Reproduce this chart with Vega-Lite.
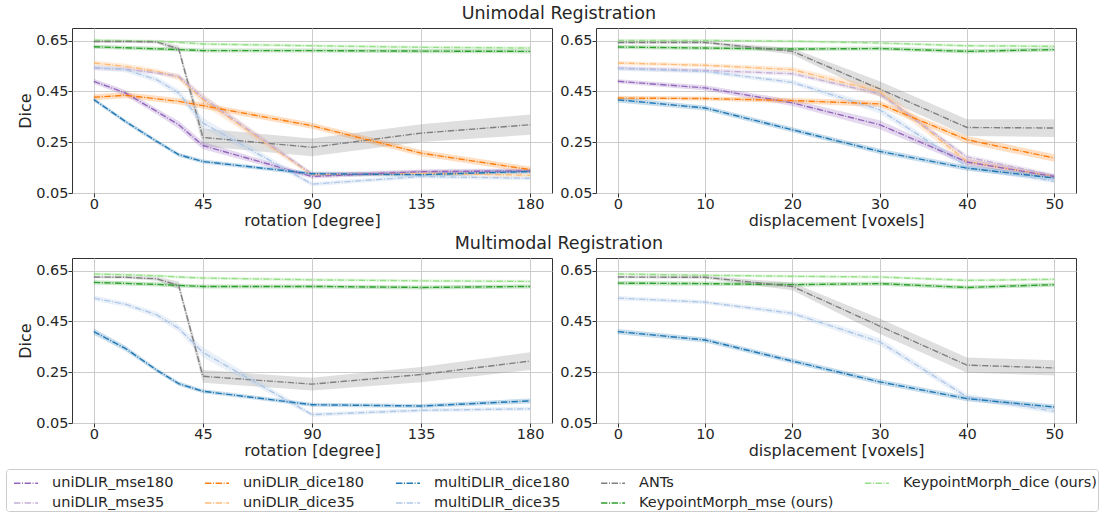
{
  "$schema": "https://vega.github.io/schema/vega-lite/v6.json",
  "padding": {"left": 5, "top": 5, "right": 4, "bottom": 0},
  "background": "white",
  "config": {
    "font": "DejaVu Sans",
    "view": {"stroke": "#333333", "strokeWidth": 1},
    "axis": {"labelFont": "DejaVu Sans", "titleFont": "DejaVu Sans", "labelFontSize": 14.5, "titleFontSize": 16, "titleFontWeight": "normal", "labelColor": "#262626", "titleColor": "#262626", "gridColor": "#cccccc", "gridWidth": 1, "tickColor": "#333333", "tickSize": 4, "domain": false, "labelPadding": 0, "titlePadding": 2},
    "title": {"font": "DejaVu Sans", "fontSize": 17.5, "fontWeight": "normal", "color": "#262626", "anchor": "middle"},
    "legend": {"labelFont": "DejaVu Sans", "labelFontSize": 14.5, "labelColor": "#262626", "symbolType": "stroke", "symbolSize": 576, "symbolStrokeWidth": 1.5, "symbolDash": [6.4, 1.6, 1, 1.6], "symbolOffset": 6, "labelOffset": 13, "columnPadding": 24, "rowPadding": -3, "strokeColor": "#cccccc", "padding": 1, "cornerRadius": 3, "labelLimit": 400}
  },
  "datasets": {
    "d": [
      {"p":"ur","s":"KeypointMorph_dice (ours)","x":0,"y":0.652,"lo":0.646,"hi":0.658},
      {"p":"ur","s":"KeypointMorph_dice (ours)","x":13,"y":0.650,"lo":0.644,"hi":0.656},
      {"p":"ur","s":"KeypointMorph_dice (ours)","x":26,"y":0.648,"lo":0.642,"hi":0.654},
      {"p":"ur","s":"KeypointMorph_dice (ours)","x":35,"y":0.644,"lo":0.638,"hi":0.650},
      {"p":"ur","s":"KeypointMorph_dice (ours)","x":45,"y":0.637,"lo":0.631,"hi":0.643},
      {"p":"ur","s":"KeypointMorph_dice (ours)","x":90,"y":0.630,"lo":0.624,"hi":0.636},
      {"p":"ur","s":"KeypointMorph_dice (ours)","x":135,"y":0.624,"lo":0.618,"hi":0.630},
      {"p":"ur","s":"KeypointMorph_dice (ours)","x":180,"y":0.621,"lo":0.615,"hi":0.627},
      {"p":"ur","s":"KeypointMorph_mse (ours)","x":0,"y":0.626,"lo":0.618,"hi":0.634},
      {"p":"ur","s":"KeypointMorph_mse (ours)","x":13,"y":0.622,"lo":0.614,"hi":0.630},
      {"p":"ur","s":"KeypointMorph_mse (ours)","x":26,"y":0.618,"lo":0.610,"hi":0.626},
      {"p":"ur","s":"KeypointMorph_mse (ours)","x":35,"y":0.615,"lo":0.607,"hi":0.623},
      {"p":"ur","s":"KeypointMorph_mse (ours)","x":45,"y":0.611,"lo":0.603,"hi":0.619},
      {"p":"ur","s":"KeypointMorph_mse (ours)","x":90,"y":0.611,"lo":0.603,"hi":0.619},
      {"p":"ur","s":"KeypointMorph_mse (ours)","x":135,"y":0.609,"lo":0.601,"hi":0.617},
      {"p":"ur","s":"KeypointMorph_mse (ours)","x":180,"y":0.608,"lo":0.600,"hi":0.616},
      {"p":"ur","s":"ANTs","x":0,"y":0.647,"lo":0.642,"hi":0.652},
      {"p":"ur","s":"ANTs","x":13,"y":0.647,"lo":0.642,"hi":0.652},
      {"p":"ur","s":"ANTs","x":26,"y":0.645,"lo":0.639,"hi":0.651},
      {"p":"ur","s":"ANTs","x":35,"y":0.618,"lo":0.606,"hi":0.630},
      {"p":"ur","s":"ANTs","x":45,"y":0.269,"lo":0.234,"hi":0.304},
      {"p":"ur","s":"ANTs","x":90,"y":0.230,"lo":0.195,"hi":0.265},
      {"p":"ur","s":"ANTs","x":135,"y":0.286,"lo":0.251,"hi":0.321},
      {"p":"ur","s":"ANTs","x":180,"y":0.319,"lo":0.279,"hi":0.359},
      {"p":"ur","s":"uniDLIR_dice35","x":0,"y":0.562,"lo":0.552,"hi":0.572},
      {"p":"ur","s":"uniDLIR_dice35","x":13,"y":0.549,"lo":0.539,"hi":0.559},
      {"p":"ur","s":"uniDLIR_dice35","x":26,"y":0.529,"lo":0.519,"hi":0.539},
      {"p":"ur","s":"uniDLIR_dice35","x":35,"y":0.506,"lo":0.494,"hi":0.518},
      {"p":"ur","s":"uniDLIR_dice35","x":45,"y":0.418,"lo":0.398,"hi":0.438},
      {"p":"ur","s":"uniDLIR_dice35","x":90,"y":0.122,"lo":0.114,"hi":0.130},
      {"p":"ur","s":"uniDLIR_dice35","x":135,"y":0.128,"lo":0.120,"hi":0.136},
      {"p":"ur","s":"uniDLIR_dice35","x":180,"y":0.120,"lo":0.112,"hi":0.128},
      {"p":"ur","s":"uniDLIR_mse35","x":0,"y":0.542,"lo":0.534,"hi":0.550},
      {"p":"ur","s":"uniDLIR_mse35","x":13,"y":0.538,"lo":0.530,"hi":0.546},
      {"p":"ur","s":"uniDLIR_mse35","x":26,"y":0.523,"lo":0.515,"hi":0.531},
      {"p":"ur","s":"uniDLIR_mse35","x":35,"y":0.510,"lo":0.500,"hi":0.520},
      {"p":"ur","s":"uniDLIR_mse35","x":45,"y":0.425,"lo":0.410,"hi":0.440},
      {"p":"ur","s":"uniDLIR_mse35","x":90,"y":0.125,"lo":0.117,"hi":0.133},
      {"p":"ur","s":"uniDLIR_mse35","x":135,"y":0.135,"lo":0.127,"hi":0.143},
      {"p":"ur","s":"uniDLIR_mse35","x":180,"y":0.140,"lo":0.132,"hi":0.148},
      {"p":"ur","s":"uniDLIR_mse180","x":0,"y":0.490,"lo":0.480,"hi":0.500},
      {"p":"ur","s":"uniDLIR_mse180","x":13,"y":0.444,"lo":0.432,"hi":0.456},
      {"p":"ur","s":"uniDLIR_mse180","x":26,"y":0.371,"lo":0.359,"hi":0.383},
      {"p":"ur","s":"uniDLIR_mse180","x":35,"y":0.319,"lo":0.304,"hi":0.334},
      {"p":"ur","s":"uniDLIR_mse180","x":45,"y":0.237,"lo":0.222,"hi":0.252},
      {"p":"ur","s":"uniDLIR_mse180","x":90,"y":0.115,"lo":0.107,"hi":0.123},
      {"p":"ur","s":"uniDLIR_mse180","x":135,"y":0.134,"lo":0.126,"hi":0.142},
      {"p":"ur","s":"uniDLIR_mse180","x":180,"y":0.137,"lo":0.129,"hi":0.145},
      {"p":"ur","s":"uniDLIR_dice180","x":0,"y":0.427,"lo":0.415,"hi":0.439},
      {"p":"ur","s":"uniDLIR_dice180","x":13,"y":0.435,"lo":0.423,"hi":0.447},
      {"p":"ur","s":"uniDLIR_dice180","x":26,"y":0.421,"lo":0.409,"hi":0.433},
      {"p":"ur","s":"uniDLIR_dice180","x":35,"y":0.411,"lo":0.399,"hi":0.423},
      {"p":"ur","s":"uniDLIR_dice180","x":45,"y":0.394,"lo":0.382,"hi":0.406},
      {"p":"ur","s":"uniDLIR_dice180","x":90,"y":0.315,"lo":0.303,"hi":0.327},
      {"p":"ur","s":"uniDLIR_dice180","x":135,"y":0.207,"lo":0.195,"hi":0.219},
      {"p":"ur","s":"uniDLIR_dice180","x":180,"y":0.142,"lo":0.130,"hi":0.154},
      {"p":"ur","s":"multiDLIR_dice35","x":0,"y":0.545,"lo":0.535,"hi":0.555},
      {"p":"ur","s":"multiDLIR_dice35","x":13,"y":0.536,"lo":0.526,"hi":0.546},
      {"p":"ur","s":"multiDLIR_dice35","x":26,"y":0.496,"lo":0.484,"hi":0.508},
      {"p":"ur","s":"multiDLIR_dice35","x":35,"y":0.444,"lo":0.429,"hi":0.459},
      {"p":"ur","s":"multiDLIR_dice35","x":45,"y":0.326,"lo":0.306,"hi":0.346},
      {"p":"ur","s":"multiDLIR_dice35","x":90,"y":0.085,"lo":0.077,"hi":0.093},
      {"p":"ur","s":"multiDLIR_dice35","x":135,"y":0.115,"lo":0.107,"hi":0.123},
      {"p":"ur","s":"multiDLIR_dice35","x":180,"y":0.108,"lo":0.100,"hi":0.116},
      {"p":"ur","s":"multiDLIR_dice180","x":0,"y":0.418,"lo":0.410,"hi":0.426},
      {"p":"ur","s":"multiDLIR_dice180","x":13,"y":0.332,"lo":0.324,"hi":0.340},
      {"p":"ur","s":"multiDLIR_dice180","x":26,"y":0.253,"lo":0.245,"hi":0.261},
      {"p":"ur","s":"multiDLIR_dice180","x":35,"y":0.201,"lo":0.193,"hi":0.209},
      {"p":"ur","s":"multiDLIR_dice180","x":45,"y":0.174,"lo":0.166,"hi":0.182},
      {"p":"ur","s":"multiDLIR_dice180","x":90,"y":0.126,"lo":0.118,"hi":0.134},
      {"p":"ur","s":"multiDLIR_dice180","x":135,"y":0.122,"lo":0.114,"hi":0.130},
      {"p":"ur","s":"multiDLIR_dice180","x":180,"y":0.135,"lo":0.127,"hi":0.143},

      {"p":"ud","s":"KeypointMorph_dice (ours)","x":0,"y":0.651,"lo":0.645,"hi":0.657},
      {"p":"ud","s":"KeypointMorph_dice (ours)","x":10,"y":0.651,"lo":0.645,"hi":0.657},
      {"p":"ud","s":"KeypointMorph_dice (ours)","x":20,"y":0.648,"lo":0.642,"hi":0.654},
      {"p":"ud","s":"KeypointMorph_dice (ours)","x":30,"y":0.641,"lo":0.635,"hi":0.647},
      {"p":"ud","s":"KeypointMorph_dice (ours)","x":40,"y":0.630,"lo":0.624,"hi":0.636},
      {"p":"ud","s":"KeypointMorph_dice (ours)","x":50,"y":0.628,"lo":0.622,"hi":0.634},
      {"p":"ud","s":"KeypointMorph_mse (ours)","x":0,"y":0.625,"lo":0.617,"hi":0.633},
      {"p":"ud","s":"KeypointMorph_mse (ours)","x":10,"y":0.621,"lo":0.613,"hi":0.629},
      {"p":"ud","s":"KeypointMorph_mse (ours)","x":20,"y":0.617,"lo":0.609,"hi":0.625},
      {"p":"ud","s":"KeypointMorph_mse (ours)","x":30,"y":0.619,"lo":0.611,"hi":0.627},
      {"p":"ud","s":"KeypointMorph_mse (ours)","x":40,"y":0.608,"lo":0.600,"hi":0.616},
      {"p":"ud","s":"KeypointMorph_mse (ours)","x":50,"y":0.615,"lo":0.607,"hi":0.623},
      {"p":"ud","s":"ANTs","x":0,"y":0.643,"lo":0.638,"hi":0.648},
      {"p":"ud","s":"ANTs","x":10,"y":0.643,"lo":0.638,"hi":0.648},
      {"p":"ud","s":"ANTs","x":20,"y":0.608,"lo":0.596,"hi":0.620},
      {"p":"ud","s":"ANTs","x":30,"y":0.460,"lo":0.430,"hi":0.490},
      {"p":"ud","s":"ANTs","x":40,"y":0.308,"lo":0.275,"hi":0.341},
      {"p":"ud","s":"ANTs","x":50,"y":0.306,"lo":0.271,"hi":0.341},
      {"p":"ud","s":"uniDLIR_dice35","x":0,"y":0.562,"lo":0.554,"hi":0.570},
      {"p":"ud","s":"uniDLIR_dice35","x":10,"y":0.553,"lo":0.545,"hi":0.561},
      {"p":"ud","s":"uniDLIR_dice35","x":20,"y":0.536,"lo":0.526,"hi":0.546},
      {"p":"ud","s":"uniDLIR_dice35","x":30,"y":0.450,"lo":0.430,"hi":0.470},
      {"p":"ud","s":"uniDLIR_dice35","x":40,"y":0.174,"lo":0.159,"hi":0.189},
      {"p":"ud","s":"uniDLIR_dice35","x":50,"y":0.115,"lo":0.107,"hi":0.123},
      {"p":"ud","s":"uniDLIR_mse35","x":0,"y":0.542,"lo":0.534,"hi":0.550},
      {"p":"ud","s":"uniDLIR_mse35","x":10,"y":0.533,"lo":0.525,"hi":0.541},
      {"p":"ud","s":"uniDLIR_mse35","x":20,"y":0.520,"lo":0.512,"hi":0.528},
      {"p":"ud","s":"uniDLIR_mse35","x":30,"y":0.441,"lo":0.431,"hi":0.451},
      {"p":"ud","s":"uniDLIR_mse35","x":40,"y":0.192,"lo":0.182,"hi":0.202},
      {"p":"ud","s":"uniDLIR_mse35","x":50,"y":0.119,"lo":0.111,"hi":0.127},
      {"p":"ud","s":"multiDLIR_dice35","x":0,"y":0.540,"lo":0.532,"hi":0.548},
      {"p":"ud","s":"multiDLIR_dice35","x":10,"y":0.529,"lo":0.521,"hi":0.537},
      {"p":"ud","s":"multiDLIR_dice35","x":20,"y":0.486,"lo":0.476,"hi":0.496},
      {"p":"ud","s":"multiDLIR_dice35","x":30,"y":0.378,"lo":0.363,"hi":0.393},
      {"p":"ud","s":"multiDLIR_dice35","x":40,"y":0.155,"lo":0.143,"hi":0.167},
      {"p":"ud","s":"multiDLIR_dice35","x":50,"y":0.096,"lo":0.088,"hi":0.104},
      {"p":"ud","s":"uniDLIR_mse180","x":0,"y":0.490,"lo":0.482,"hi":0.498},
      {"p":"ud","s":"uniDLIR_mse180","x":10,"y":0.464,"lo":0.454,"hi":0.474},
      {"p":"ud","s":"uniDLIR_mse180","x":20,"y":0.405,"lo":0.393,"hi":0.417},
      {"p":"ud","s":"uniDLIR_mse180","x":30,"y":0.319,"lo":0.301,"hi":0.337},
      {"p":"ud","s":"uniDLIR_mse180","x":40,"y":0.172,"lo":0.160,"hi":0.184},
      {"p":"ud","s":"uniDLIR_mse180","x":50,"y":0.115,"lo":0.107,"hi":0.123},
      {"p":"ud","s":"uniDLIR_dice180","x":0,"y":0.424,"lo":0.416,"hi":0.432},
      {"p":"ud","s":"uniDLIR_dice180","x":10,"y":0.422,"lo":0.414,"hi":0.430},
      {"p":"ud","s":"uniDLIR_dice180","x":20,"y":0.414,"lo":0.404,"hi":0.424},
      {"p":"ud","s":"uniDLIR_dice180","x":30,"y":0.401,"lo":0.389,"hi":0.413},
      {"p":"ud","s":"uniDLIR_dice180","x":40,"y":0.260,"lo":0.245,"hi":0.275},
      {"p":"ud","s":"uniDLIR_dice180","x":50,"y":0.188,"lo":0.173,"hi":0.203},
      {"p":"ud","s":"multiDLIR_dice180","x":0,"y":0.417,"lo":0.407,"hi":0.427},
      {"p":"ud","s":"multiDLIR_dice180","x":10,"y":0.385,"lo":0.375,"hi":0.395},
      {"p":"ud","s":"multiDLIR_dice180","x":20,"y":0.299,"lo":0.289,"hi":0.309},
      {"p":"ud","s":"multiDLIR_dice180","x":30,"y":0.214,"lo":0.204,"hi":0.224},
      {"p":"ud","s":"multiDLIR_dice180","x":40,"y":0.148,"lo":0.138,"hi":0.158},
      {"p":"ud","s":"multiDLIR_dice180","x":50,"y":0.109,"lo":0.099,"hi":0.119},

      {"p":"mr","s":"KeypointMorph_dice (ours)","x":0,"y":0.637,"lo":0.631,"hi":0.643},
      {"p":"mr","s":"KeypointMorph_dice (ours)","x":13,"y":0.634,"lo":0.628,"hi":0.640},
      {"p":"mr","s":"KeypointMorph_dice (ours)","x":26,"y":0.630,"lo":0.624,"hi":0.636},
      {"p":"mr","s":"KeypointMorph_dice (ours)","x":35,"y":0.625,"lo":0.619,"hi":0.631},
      {"p":"mr","s":"KeypointMorph_dice (ours)","x":45,"y":0.621,"lo":0.615,"hi":0.627},
      {"p":"mr","s":"KeypointMorph_dice (ours)","x":90,"y":0.614,"lo":0.608,"hi":0.620},
      {"p":"mr","s":"KeypointMorph_dice (ours)","x":135,"y":0.610,"lo":0.604,"hi":0.616},
      {"p":"mr","s":"KeypointMorph_dice (ours)","x":180,"y":0.608,"lo":0.602,"hi":0.614},
      {"p":"mr","s":"KeypointMorph_mse (ours)","x":0,"y":0.604,"lo":0.596,"hi":0.612},
      {"p":"mr","s":"KeypointMorph_mse (ours)","x":13,"y":0.600,"lo":0.592,"hi":0.608},
      {"p":"mr","s":"KeypointMorph_mse (ours)","x":26,"y":0.596,"lo":0.588,"hi":0.604},
      {"p":"mr","s":"KeypointMorph_mse (ours)","x":35,"y":0.592,"lo":0.584,"hi":0.600},
      {"p":"mr","s":"KeypointMorph_mse (ours)","x":45,"y":0.588,"lo":0.580,"hi":0.596},
      {"p":"mr","s":"KeypointMorph_mse (ours)","x":90,"y":0.588,"lo":0.580,"hi":0.596},
      {"p":"mr","s":"KeypointMorph_mse (ours)","x":135,"y":0.584,"lo":0.576,"hi":0.592},
      {"p":"mr","s":"KeypointMorph_mse (ours)","x":180,"y":0.588,"lo":0.580,"hi":0.596},
      {"p":"mr","s":"ANTs","x":0,"y":0.625,"lo":0.620,"hi":0.630},
      {"p":"mr","s":"ANTs","x":13,"y":0.624,"lo":0.619,"hi":0.629},
      {"p":"mr","s":"ANTs","x":26,"y":0.618,"lo":0.610,"hi":0.626},
      {"p":"mr","s":"ANTs","x":35,"y":0.592,"lo":0.577,"hi":0.607},
      {"p":"mr","s":"ANTs","x":45,"y":0.234,"lo":0.209,"hi":0.259},
      {"p":"mr","s":"ANTs","x":90,"y":0.203,"lo":0.178,"hi":0.228},
      {"p":"mr","s":"ANTs","x":135,"y":0.241,"lo":0.211,"hi":0.271},
      {"p":"mr","s":"ANTs","x":180,"y":0.294,"lo":0.259,"hi":0.329},
      {"p":"mr","s":"multiDLIR_dice35","x":0,"y":0.542,"lo":0.532,"hi":0.552},
      {"p":"mr","s":"multiDLIR_dice35","x":13,"y":0.518,"lo":0.508,"hi":0.528},
      {"p":"mr","s":"multiDLIR_dice35","x":26,"y":0.476,"lo":0.464,"hi":0.488},
      {"p":"mr","s":"multiDLIR_dice35","x":35,"y":0.423,"lo":0.408,"hi":0.438},
      {"p":"mr","s":"multiDLIR_dice35","x":45,"y":0.328,"lo":0.308,"hi":0.348},
      {"p":"mr","s":"multiDLIR_dice35","x":90,"y":0.083,"lo":0.075,"hi":0.091},
      {"p":"mr","s":"multiDLIR_dice35","x":135,"y":0.100,"lo":0.092,"hi":0.108},
      {"p":"mr","s":"multiDLIR_dice35","x":180,"y":0.106,"lo":0.098,"hi":0.114},
      {"p":"mr","s":"multiDLIR_dice180","x":0,"y":0.410,"lo":0.398,"hi":0.422},
      {"p":"mr","s":"multiDLIR_dice180","x":13,"y":0.344,"lo":0.334,"hi":0.354},
      {"p":"mr","s":"multiDLIR_dice180","x":26,"y":0.258,"lo":0.250,"hi":0.266},
      {"p":"mr","s":"multiDLIR_dice180","x":35,"y":0.205,"lo":0.197,"hi":0.213},
      {"p":"mr","s":"multiDLIR_dice180","x":45,"y":0.175,"lo":0.167,"hi":0.183},
      {"p":"mr","s":"multiDLIR_dice180","x":90,"y":0.122,"lo":0.114,"hi":0.130},
      {"p":"mr","s":"multiDLIR_dice180","x":135,"y":0.117,"lo":0.109,"hi":0.125},
      {"p":"mr","s":"multiDLIR_dice180","x":180,"y":0.137,"lo":0.127,"hi":0.147},

      {"p":"md","s":"KeypointMorph_dice (ours)","x":0,"y":0.637,"lo":0.631,"hi":0.643},
      {"p":"md","s":"KeypointMorph_dice (ours)","x":10,"y":0.632,"lo":0.626,"hi":0.638},
      {"p":"md","s":"KeypointMorph_dice (ours)","x":20,"y":0.628,"lo":0.622,"hi":0.634},
      {"p":"md","s":"KeypointMorph_dice (ours)","x":30,"y":0.625,"lo":0.619,"hi":0.631},
      {"p":"md","s":"KeypointMorph_dice (ours)","x":40,"y":0.612,"lo":0.606,"hi":0.618},
      {"p":"md","s":"KeypointMorph_dice (ours)","x":50,"y":0.616,"lo":0.610,"hi":0.622},
      {"p":"md","s":"KeypointMorph_mse (ours)","x":0,"y":0.601,"lo":0.593,"hi":0.609},
      {"p":"md","s":"KeypointMorph_mse (ours)","x":10,"y":0.599,"lo":0.591,"hi":0.607},
      {"p":"md","s":"KeypointMorph_mse (ours)","x":20,"y":0.595,"lo":0.587,"hi":0.603},
      {"p":"md","s":"KeypointMorph_mse (ours)","x":30,"y":0.599,"lo":0.591,"hi":0.607},
      {"p":"md","s":"KeypointMorph_mse (ours)","x":40,"y":0.584,"lo":0.576,"hi":0.592},
      {"p":"md","s":"KeypointMorph_mse (ours)","x":50,"y":0.595,"lo":0.587,"hi":0.603},
      {"p":"md","s":"ANTs","x":0,"y":0.625,"lo":0.620,"hi":0.630},
      {"p":"md","s":"ANTs","x":10,"y":0.624,"lo":0.618,"hi":0.630},
      {"p":"md","s":"ANTs","x":20,"y":0.588,"lo":0.573,"hi":0.603},
      {"p":"md","s":"ANTs","x":30,"y":0.432,"lo":0.402,"hi":0.462},
      {"p":"md","s":"ANTs","x":40,"y":0.278,"lo":0.248,"hi":0.308},
      {"p":"md","s":"ANTs","x":50,"y":0.267,"lo":0.237,"hi":0.297},
      {"p":"md","s":"multiDLIR_dice35","x":0,"y":0.542,"lo":0.534,"hi":0.550},
      {"p":"md","s":"multiDLIR_dice35","x":10,"y":0.526,"lo":0.518,"hi":0.534},
      {"p":"md","s":"multiDLIR_dice35","x":20,"y":0.482,"lo":0.472,"hi":0.492},
      {"p":"md","s":"multiDLIR_dice35","x":30,"y":0.370,"lo":0.355,"hi":0.385},
      {"p":"md","s":"multiDLIR_dice35","x":40,"y":0.153,"lo":0.141,"hi":0.165},
      {"p":"md","s":"multiDLIR_dice35","x":50,"y":0.096,"lo":0.086,"hi":0.106},
      {"p":"md","s":"multiDLIR_dice180","x":0,"y":0.410,"lo":0.400,"hi":0.420},
      {"p":"md","s":"multiDLIR_dice180","x":10,"y":0.377,"lo":0.367,"hi":0.387},
      {"p":"md","s":"multiDLIR_dice180","x":20,"y":0.294,"lo":0.284,"hi":0.304},
      {"p":"md","s":"multiDLIR_dice180","x":30,"y":0.212,"lo":0.202,"hi":0.222},
      {"p":"md","s":"multiDLIR_dice180","x":40,"y":0.146,"lo":0.136,"hi":0.156},
      {"p":"md","s":"multiDLIR_dice180","x":50,"y":0.113,"lo":0.103,"hi":0.123}
    ]
  },
  "resolve": {"scale": {"color": "shared", "fill": "shared"}},
  "spacing": 6,
  "vconcat": [
    {
      "title": {"text": "Unimodal Registration", "offset": 5, "dx": 12},
      "spacing": 6,
      "hconcat": [
        {
          "width": 480, "height": 165,
          "data": {"name": "d"},
          "transform": [{"filter": "datum.p === 'ur'"}],
          "encoding": {"x": {"field": "x", "type": "quantitative", "scale": {"domain": [-9, 189], "nice": false, "zero": false}, "axis": {"values": [0, 45, 90, 135, 180], "title": "rotation [degree]"}}},
          "layer": [
            {"mark": {"type": "area", "opacity": 0.25}, "encoding": {"y": {"field": "lo", "type": "quantitative", "scale": {"domain": [0.05, 0.7], "nice": false, "zero": false}, "axis": {"values": [0.05, 0.25, 0.45, 0.65], "format": ".2f", "title": "Dice"}}, "y2": {"field": "hi"}, "fill": {"field": "s", "type": "nominal", "legend": null, "scale": {"domain": ["KeypointMorph_mse (ours)", "multiDLIR_dice35", "uniDLIR_dice35", "uniDLIR_mse35", "KeypointMorph_dice (ours)", "ANTs", "multiDLIR_dice180", "uniDLIR_dice180", "uniDLIR_mse180"], "range": ["#2ca02c", "#aec7e8", "#ffbb78", "#c5b0d5", "#98df8a", "#7f7f7f", "#1f77b4", "#ff7f0e", "#9467bd"]}}}},
            {"mark": {"type": "line", "strokeWidth": 1.4, "strokeDash": [6.4, 1.6, 1, 1.6]}, "encoding": {"y": {"field": "y", "type": "quantitative", "scale": {"domain": [0.05, 0.7], "nice": false, "zero": false}, "axis": {"values": [0.05, 0.25, 0.45, 0.65], "format": ".2f", "title": "Dice"}}, "color": {"field": "s", "type": "nominal", "scale": {"domain": ["uniDLIR_mse180", "uniDLIR_dice180", "multiDLIR_dice180", "ANTs", "KeypointMorph_dice (ours)", "uniDLIR_mse35", "uniDLIR_dice35", "multiDLIR_dice35", "KeypointMorph_mse (ours)"], "range": ["#9467bd", "#ff7f0e", "#1f77b4", "#7f7f7f", "#98df8a", "#c5b0d5", "#ffbb78", "#aec7e8", "#2ca02c"]}, "legend": {"title": null, "orient": "none", "legendX": -66, "legendY": 441, "columns": 5, "direction": "horizontal"}}}}
          ]
        },
        {
          "width": 480, "height": 165,
          "data": {"name": "d"},
          "transform": [{"filter": "datum.p === 'ud'"}],
          "encoding": {"x": {"field": "x", "type": "quantitative", "scale": {"domain": [-2.5, 52.5], "nice": false, "zero": false}, "axis": {"values": [0, 10, 20, 30, 40, 50], "title": "displacement [voxels]"}}},
          "layer": [
            {"mark": {"type": "area", "opacity": 0.25}, "encoding": {"y": {"field": "lo", "type": "quantitative", "scale": {"domain": [0.05, 0.7], "nice": false, "zero": false}, "axis": {"values": [0.05, 0.25, 0.45, 0.65], "format": ".2f", "title": null}}, "y2": {"field": "hi"}, "fill": {"field": "s", "type": "nominal", "legend": null}}},
            {"mark": {"type": "line", "strokeWidth": 1.4, "strokeDash": [6.4, 1.6, 1, 1.6]}, "encoding": {"y": {"field": "y", "type": "quantitative", "scale": {"domain": [0.05, 0.7], "nice": false, "zero": false}, "axis": {"values": [0.05, 0.25, 0.45, 0.65], "format": ".2f", "title": null}}, "color": {"field": "s", "type": "nominal"}}}
          ]
        }
      ]
    },
    {
      "title": {"text": "Multimodal Registration", "offset": 5, "dx": 12},
      "spacing": 6,
      "hconcat": [
        {
          "width": 480, "height": 165,
          "data": {"name": "d"},
          "transform": [{"filter": "datum.p === 'mr'"}],
          "encoding": {"x": {"field": "x", "type": "quantitative", "scale": {"domain": [-9, 189], "nice": false, "zero": false}, "axis": {"values": [0, 45, 90, 135, 180], "title": "rotation [degree]"}}},
          "layer": [
            {"mark": {"type": "area", "opacity": 0.25}, "encoding": {"y": {"field": "lo", "type": "quantitative", "scale": {"domain": [0.05, 0.7], "nice": false, "zero": false}, "axis": {"values": [0.05, 0.25, 0.45, 0.65], "format": ".2f", "title": "Dice"}}, "y2": {"field": "hi"}, "fill": {"field": "s", "type": "nominal", "legend": null}}},
            {"mark": {"type": "line", "strokeWidth": 1.4, "strokeDash": [6.4, 1.6, 1, 1.6]}, "encoding": {"y": {"field": "y", "type": "quantitative", "scale": {"domain": [0.05, 0.7], "nice": false, "zero": false}, "axis": {"values": [0.05, 0.25, 0.45, 0.65], "format": ".2f", "title": "Dice"}}, "color": {"field": "s", "type": "nominal"}}}
          ]
        },
        {
          "width": 480, "height": 165,
          "data": {"name": "d"},
          "transform": [{"filter": "datum.p === 'md'"}],
          "encoding": {"x": {"field": "x", "type": "quantitative", "scale": {"domain": [-2.5, 52.5], "nice": false, "zero": false}, "axis": {"values": [0, 10, 20, 30, 40, 50], "title": "displacement [voxels]"}}},
          "layer": [
            {"mark": {"type": "area", "opacity": 0.25}, "encoding": {"y": {"field": "lo", "type": "quantitative", "scale": {"domain": [0.05, 0.7], "nice": false, "zero": false}, "axis": {"values": [0.05, 0.25, 0.45, 0.65], "format": ".2f", "title": null}}, "y2": {"field": "hi"}, "fill": {"field": "s", "type": "nominal", "legend": null}}},
            {"mark": {"type": "line", "strokeWidth": 1.4, "strokeDash": [6.4, 1.6, 1, 1.6]}, "encoding": {"y": {"field": "y", "type": "quantitative", "scale": {"domain": [0.05, 0.7], "nice": false, "zero": false}, "axis": {"values": [0.05, 0.25, 0.45, 0.65], "format": ".2f", "title": null}}, "color": {"field": "s", "type": "nominal"}}}
          ]
        }
      ]
    }
  ]
}
